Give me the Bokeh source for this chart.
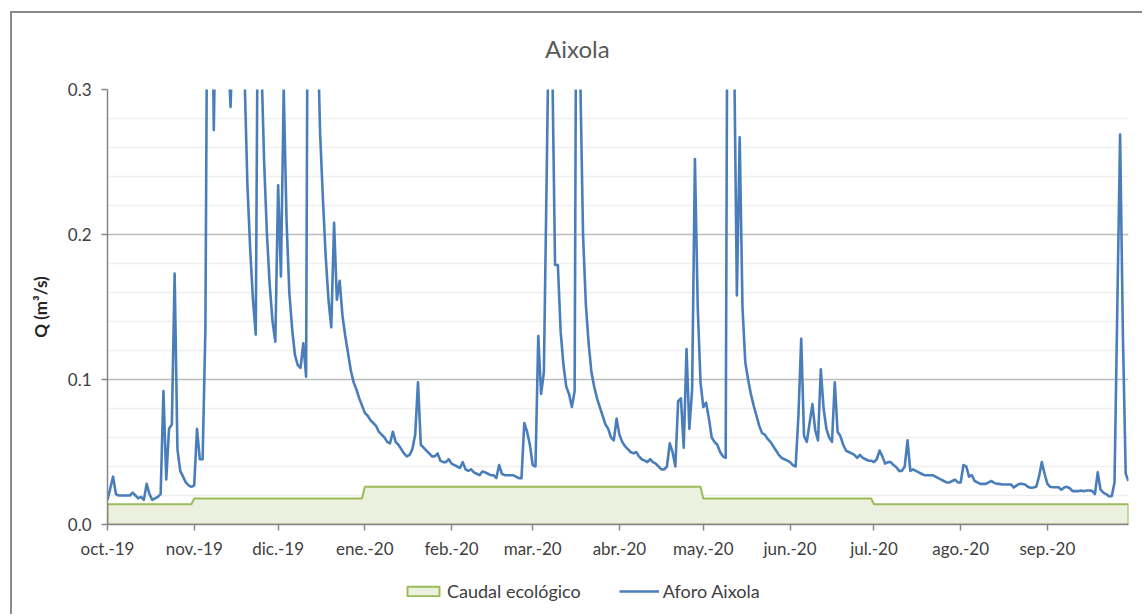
import numpy as np
from bokeh.plotting import figure
from bokeh.layouts import column
from bokeh.models import Range1d, FixedTicker, NumeralTickFormatter, Legend, LegendItem, Label
from bokeh.embed import file_html
from bokeh.resources import INLINE

# ---------------- data ----------------
chart_title = "Aixola"
month_labels = ["oct.-19", "nov.-19", "dic.-19", "ene.-20", "feb.-20", "mar.-20",
                "abr.-20", "may.-20", "jun.-20", "jul.-20", "ago.-20", "sep.-20"]
month_days = [31, 30, 31, 31, 29, 31, 30, 31, 30, 31, 31, 30]
eco_monthly = [0.014, 0.018, 0.018, 0.026, 0.026, 0.026, 0.026, 0.018, 0.018, 0.014, 0.014, 0.014]

flow_oct = [0.017, 0.025, 0.033, 0.021, 0.020, 0.020, 0.020, 0.020, 0.020, 0.022, 0.020,
            0.018, 0.019, 0.017, 0.028, 0.021, 0.017, 0.018, 0.019, 0.021, 0.092, 0.031,
            0.066, 0.069, 0.173, 0.052, 0.037, 0.033, 0.029, 0.027, 0.026]
flow_nov = [0.027, 0.066, 0.045, 0.045, 0.135, 0.50, 0.45, 0.272, 0.40, 0.45, 0.40, 0.35,
            0.33, 0.288, 0.35, 0.40, 0.38, 0.34, 0.31, 0.235, 0.19, 0.155, 0.131, 0.45,
            0.32, 0.25, 0.20, 0.165, 0.14, 0.126]
flow_dic = [0.234, 0.171, 0.30, 0.21, 0.16, 0.135, 0.117, 0.11, 0.108, 0.125, 0.102,
            0.60, 0.50, 0.40, 0.35, 0.27, 0.225, 0.185, 0.155, 0.136, 0.208, 0.155, 0.168,
            0.144, 0.130, 0.118, 0.106, 0.098, 0.093, 0.087, 0.082]
flow_ene = [0.077, 0.075, 0.072, 0.070, 0.068, 0.064, 0.062, 0.060, 0.057, 0.056, 0.064,
            0.057, 0.055, 0.052, 0.049, 0.047, 0.048, 0.052, 0.062, 0.098, 0.055, 0.053,
            0.051, 0.049, 0.047, 0.047, 0.049, 0.044, 0.043, 0.043, 0.045]
flow_feb = [0.042, 0.041, 0.040, 0.039, 0.043, 0.038, 0.037, 0.038, 0.036, 0.035, 0.034,
            0.0365, 0.036, 0.035, 0.034, 0.034, 0.032, 0.041, 0.035, 0.034, 0.034, 0.034,
            0.034, 0.033, 0.032, 0.032, 0.070, 0.064, 0.055]
flow_mar = [0.041, 0.040, 0.130, 0.090, 0.105, 0.24, 0.38, 0.32, 0.179, 0.179, 0.133,
            0.11, 0.095, 0.09, 0.081, 0.092, 0.60, 0.31, 0.20, 0.152, 0.125, 0.105, 0.095,
            0.087, 0.081, 0.075, 0.069, 0.066, 0.060, 0.058, 0.073]
flow_abr = [0.062, 0.057, 0.054, 0.052, 0.050, 0.049, 0.050, 0.047, 0.045, 0.044, 0.043,
            0.045, 0.043, 0.042, 0.040, 0.038, 0.038, 0.040, 0.056, 0.050, 0.040, 0.085,
            0.087, 0.053, 0.121, 0.066, 0.093, 0.252, 0.15, 0.098]
flow_may = [0.081, 0.084, 0.073, 0.060, 0.057, 0.055, 0.050, 0.047, 0.046, 0.60, 0.50,
            0.33, 0.158, 0.267, 0.150, 0.112, 0.100, 0.090, 0.082, 0.075, 0.068, 0.063,
            0.062, 0.059, 0.057, 0.054, 0.051, 0.048, 0.046, 0.045, 0.044]
flow_jun = [0.043, 0.041, 0.040, 0.075, 0.128, 0.061, 0.057, 0.070, 0.083, 0.065, 0.058,
            0.107, 0.080, 0.066, 0.060, 0.057, 0.098, 0.064, 0.061, 0.055, 0.051, 0.050,
            0.049, 0.048, 0.046, 0.048, 0.046, 0.045, 0.044, 0.044]
flow_jul = [0.043, 0.045, 0.051, 0.047, 0.042, 0.043, 0.043, 0.041, 0.0395, 0.037, 0.037,
            0.040, 0.058, 0.037, 0.038, 0.037, 0.036, 0.035, 0.034, 0.034, 0.034, 0.034,
            0.033, 0.032, 0.031, 0.030, 0.029, 0.029, 0.030, 0.031, 0.029]
flow_ago = [0.029, 0.041, 0.040, 0.033, 0.034, 0.030, 0.029, 0.028, 0.028, 0.028, 0.029,
            0.030, 0.0287, 0.028, 0.028, 0.0276, 0.0276, 0.0276, 0.0276, 0.0255, 0.027,
            0.028, 0.028, 0.0276, 0.026, 0.0253, 0.0255, 0.026, 0.033, 0.043, 0.035]
flow_sep = [0.028, 0.026, 0.0257, 0.0257, 0.0257, 0.024, 0.0255, 0.026, 0.025, 0.023,
            0.023, 0.023, 0.0234, 0.023, 0.0234, 0.0234, 0.0232, 0.021, 0.036, 0.024,
            0.022, 0.021, 0.0195, 0.0195, 0.029, 0.15, 0.269, 0.13, 0.035, 0.030]

y_major = [0.0, 0.1, 0.2, 0.3]
y_minor = [0.02, 0.04, 0.06, 0.08, 0.12, 0.14, 0.16, 0.18, 0.22, 0.24, 0.26, 0.28]

# ---------------- derived ----------------
flow = np.array(flow_oct + flow_nov + flow_dic + flow_ene + flow_feb + flow_mar +
                flow_abr + flow_may + flow_jun + flow_jul + flow_ago + flow_sep)
days = np.arange(len(flow))
eco = np.repeat(eco_monthly, month_days)
month_starts = list(np.cumsum([0] + month_days[:-1]).astype(int))
last_day = int(days[-1])

FONT = "Lato"
TXT = "#404040"
AX = "#868686"
ECO_FILL, ECO_LINE = "#EBF1DE", "#9BBB59"
FLOW_COLOR = "#4A7EBB"
W = 1130
TITLE_H = 60

# ---------------- title strip ----------------
head = figure(width=W, height=TITLE_H, x_range=Range1d(0, W), y_range=Range1d(0, TITLE_H),
              x_axis_type=None, y_axis_type=None, output_backend="svg",
              toolbar_location=None, min_border=0,
              background_fill_color="white", border_fill_color="white")
head.outline_line_color = None
head.grid.visible = False
head.add_layout(Label(x=520, y=25, text=chart_title, text_align="center",
                      text_baseline="middle", text_font=FONT, text_font_size="24px",
                      text_color="#595959"))

# ---------------- main chart ----------------
p = figure(frame_width=1021, frame_height=435,
           min_border_left=95, min_border_right=14, min_border_top=76 - TITLE_H,
           min_border_bottom=42,
           x_range=Range1d(0, last_day), y_range=Range1d(0, 0.3),
           output_backend="svg", toolbar_location=None,
           background_fill_color="white", border_fill_color="white")
p.outline_line_color = None

# grids
p.xgrid.grid_line_color = None
p.ygrid.grid_line_color = "#BDBDBD"
p.ygrid.grid_line_width = 1.5
p.ygrid.minor_grid_line_color = "#EFEFEF"
p.ygrid.minor_grid_line_width = 1.5

# axes
p.yaxis.ticker = FixedTicker(ticks=y_major, minor_ticks=y_minor)
p.yaxis.formatter = NumeralTickFormatter(format="0.0")
p.xaxis.ticker = FixedTicker(ticks=month_starts)
p.xaxis.major_label_overrides = {int(s): lab for s, lab in zip(month_starts, month_labels)}
for ax in (p.xaxis[0], p.yaxis[0]):
    ax.axis_line_color = AX
    ax.axis_line_width = 1.5
    ax.major_tick_line_color = AX
    ax.major_tick_line_width = 1.5
    ax.major_tick_out = 6
    ax.major_tick_in = 0
    ax.minor_tick_line_color = None
    ax.major_label_text_font = FONT
    ax.major_label_text_font_size = "17px"
    ax.major_label_text_color = TXT
p.xaxis.major_label_standoff = 7
p.yaxis.major_label_standoff = 10
p.yaxis.axis_label = "Q (m³/s)"
p.yaxis.axis_label_text_font = FONT
p.yaxis.axis_label_text_font_size = "17px"
p.yaxis.axis_label_text_font_style = "bold"
p.yaxis.axis_label_text_color = "#262626"
p.yaxis.axis_label_standoff = 14

# glyphs
px = np.concatenate([[0], days, [last_day]])
py = np.concatenate([[0.0], eco, [0.0]])
p.patch(px, py, fill_color=ECO_FILL, line_color=ECO_LINE, line_width=2)
p.line(days, flow, line_color=FLOW_COLOR, line_width=2.6, line_join="round")

# ---------------- legend strip (separate figure so nothing is clipped) ----------------
leg = figure(width=W, height=48, x_range=Range1d(0, 1), y_range=Range1d(0, 1),
             x_axis_type=None, y_axis_type=None, output_backend="svg",
             toolbar_location=None, min_border=0,
             background_fill_color="white", border_fill_color="white")
leg.outline_line_color = None
leg.grid.visible = False
# legend proxies (outside the visible range, only their styles are used)
eco_proxy = leg.patch([5, 6, 6], [5, 5, 6], fill_color=ECO_FILL, line_color=ECO_LINE, line_width=2)
flow_proxy = leg.line([5, 6], [5, 6], line_color=FLOW_COLOR, line_width=2.6)

legend = Legend(items=[LegendItem(label="Caudal ecológico", renderers=[eco_proxy]),
                       LegendItem(label="Aforo Aixola", renderers=[flow_proxy])],
                orientation="horizontal", location=(296, 12),
                glyph_width=40, glyph_height=12, label_standoff=4, spacing=38,
                padding=0, margin=0, border_line_color=None, background_fill_alpha=0,
                label_text_font=FONT, label_text_font_size="18px", label_text_color=TXT)
leg.add_layout(legend, "center")

layout = column(head, p, leg, spacing=0)
layout.styles = {"margin-left": "10px", "margin-top": "11px",
                 "border-left": "2px solid #8a8a8a", "border-top": "2px solid #8a8a8a"}

open("out.html", "w").write(file_html(layout, INLINE))
